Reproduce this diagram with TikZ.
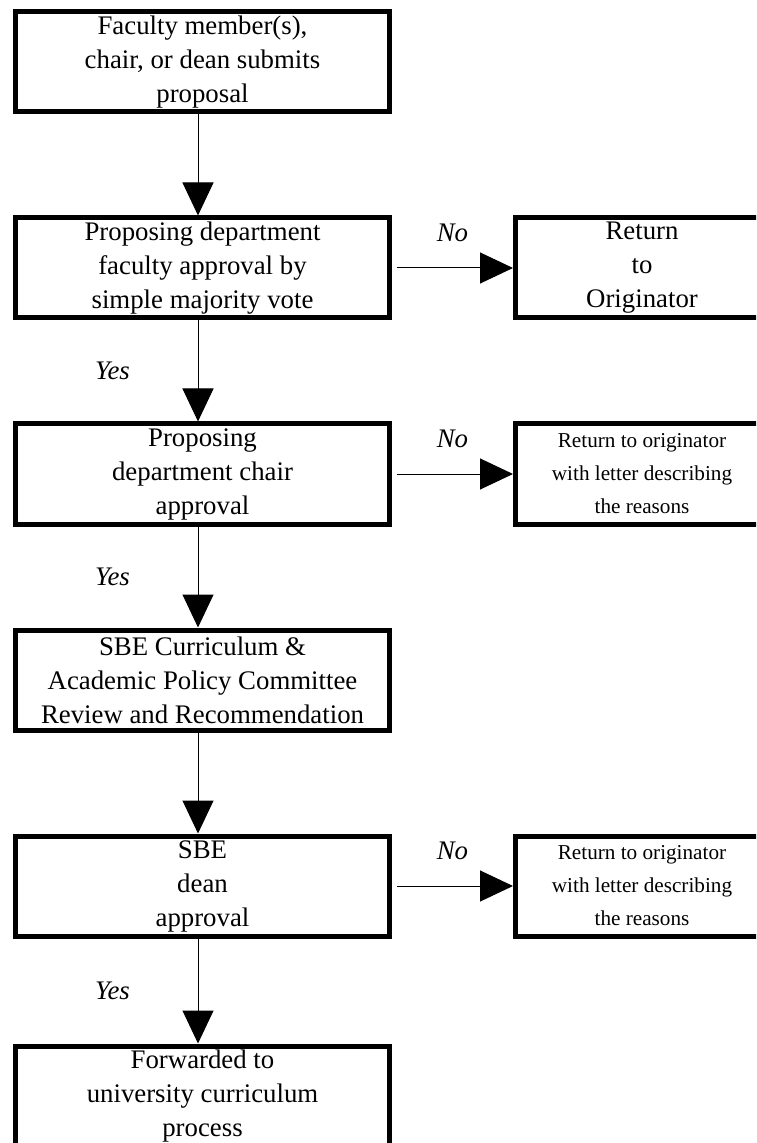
\documentclass[tikz,border=0pt]{standalone}
\usepackage{fontspec}
\setmainfont{Liberation Serif}
\usetikzlibrary{positioning,arrows.meta}
\begin{document}
\begin{tikzpicture}[x=0.5pt,y=-0.5pt]
	% formatos
	\tikzstyle{paso} = [draw, line width=2.5pt, minimum width=187pt, minimum height=50pt, inner sep=0pt, align=center, font=\fontsize{13.4}{17}\selectfont]
	\tikzstyle{retorno} = [paso, minimum width=126.5pt]
	\tikzstyle{carta} = [retorno, font=\fontsize{10.6}{16.5}\selectfont]
	\tikzstyle{flecha} = [-{Triangle[length=16.5pt,width=15.5pt]}, line width=0.5pt]
	\tikzstyle{etiqueta} = [font=\fontsize{13.4}{17}\selectfont\itshape]
	% marco
	\useasboundingbox (0,0) rectangle (756,1143);
	\clip (0,0) rectangle (756,1143);
	% nodos
	\node [paso] (p1) at (202.5,62) {Faculty member(s),\\chair, or dean submits\\proposal};
	\node [paso] (p2) [below of=p1, node distance=103pt] {Proposing department\\faculty approval by\\simple majority vote};
	\node [paso] (p3) [below of=p2, node distance=103pt] {Proposing\\department chair\\approval};
	\node [paso] (p4) [below of=p3, node distance=103pt] {SBE Curriculum \&\\Academic Policy Committee\\Review and Recommendation};
	\node [paso] (p5) [below of=p4, node distance=103pt] {SBE\\dean\\approval};
	\node [paso] (p6) [below of=p5, node distance=105pt] {Forwarded to\\university curriculum\\process};
	\node [retorno] (r2) [right of=p2, node distance=219.75pt] {Return\\to\\Originator};
	\node [carta] (r3) [right of=p3, node distance=219.75pt] {Return to originator\\with letter describing\\the reasons};
	\node [carta] (r5) [right of=p5, node distance=219.75pt] {Return to originator\\with letter describing\\the reasons};
	% relaciones
	\draw [flecha] ([xshift=-2.25pt]p1.south) -- ([xshift=-2.25pt]p2.north);
	\draw [flecha] ([xshift=-2.25pt]p2.south) -- node [etiqueta, xshift=-42.75pt] {Yes} ([xshift=-2.25pt]p3.north);
	\draw [flecha] ([xshift=-2.25pt]p3.south) -- node [etiqueta, xshift=-42.75pt] {Yes} ([xshift=-2.25pt]p4.north);
	\draw [flecha] ([xshift=-2.25pt]p4.south) -- ([xshift=-2.25pt]p5.north);
	\draw [flecha] ([xshift=-2.25pt]p5.south) -- node [etiqueta, xshift=-42.75pt] {Yes} ([xshift=-2.25pt]p6.north);
	\draw [flecha, shorten <=2.5pt] (p2) -- node [etiqueta, yshift=17.5pt] {No} (r2);
	\draw [flecha, shorten <=2.5pt] (p3) -- node [etiqueta, yshift=17.5pt] {No} (r3);
	\draw [flecha, shorten <=2.5pt] (p5) -- node [etiqueta, yshift=17.5pt] {No} (r5);
\end{tikzpicture}
\end{document}
